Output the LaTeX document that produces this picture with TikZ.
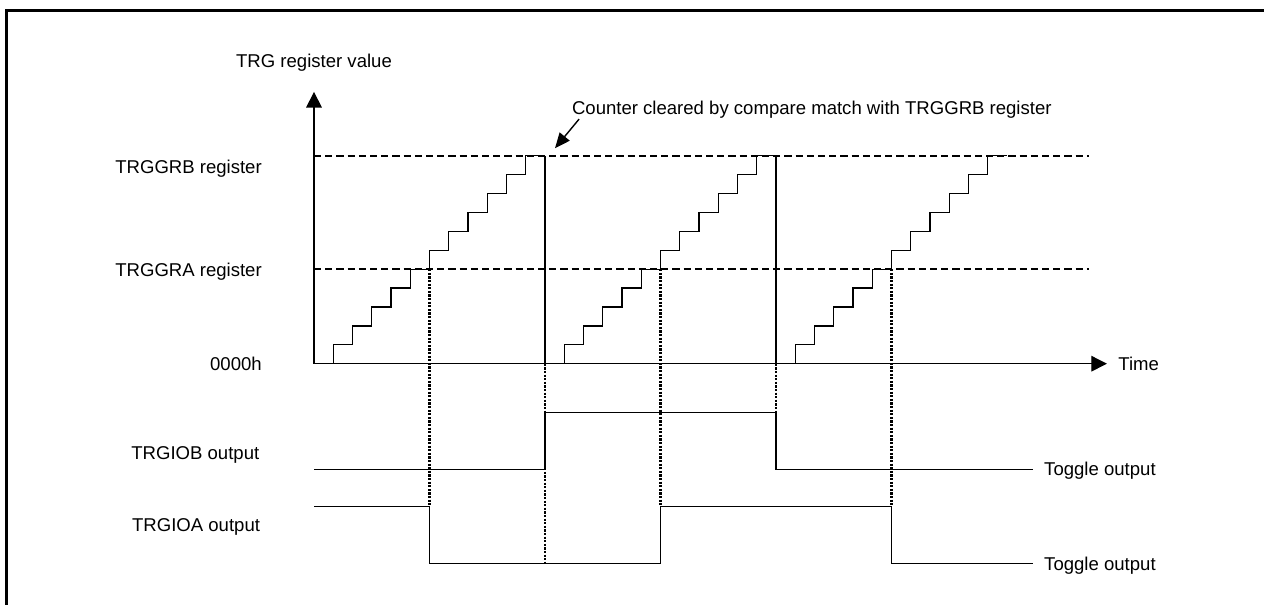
\documentclass[tikz,border=0pt]{standalone}
\usepackage{fontspec}
\setmainfont{Liberation Sans}
\usetikzlibrary{arrows.meta,positioning,calc}

\begin{document}
\begin{tikzpicture}[x=0.48125cm, y=0.4725cm,
    font=\fontsize{13.2pt}{15pt}\selectfont,
    axis/.style={line width=0.9pt, -{Triangle[length=3.9mm, width=3.9mm]}},
    limit/.style={line width=1.5pt, dash pattern=on 1.8mm off 1mm},
    guide/.style={line width=1.5pt, dash pattern=on 0.55mm off 0.35mm},
    signal/.style={line width=0.9pt},
    pointer/.style={line width=1pt, -{Triangle[length=3.8mm, width=3.2mm]}},
    lbl/.style={inner sep=0pt, anchor=base east}
  ]
  % Rahmen
  \useasboundingbox (-16.312,-12.767) rectangle (49.351,19.243);
  \draw[line width=2.1pt] (-15.974,-12.767) -- (-15.974,18.688) -- (49.351,18.688);

  % Achsen
  \coordinate (o) at (0,0);
  \coordinate (ytop) at (0,14.38);
  \coordinate (xend) at (41.19,0);
  \draw[axis] (o) -- (ytop);
  \draw[axis] (o) -- (xend);
  \node[right=2.8mm of xend, inner sep=0pt] (time) {Time};
  \node[anchor=base, inner sep=0pt] (ytitle) at (0,15.67) {TRG register value};

  % Vergleichswerte
  \coordinate (grb) at (0,11);
  \coordinate (gra) at (0,5);
  \draw[limit] (grb) -- (40.26,11);
  \draw[limit] (gra) -- (40.26,5);

  % Zaehler
  \foreach \s in {0,12,24}
    \draw[signal] (\s,0) \foreach \k in {1,...,11} { -- ++(1,0) -- ++(0,1) } -- ++(1,0);
  \draw[signal] (12,11) -- (12,0);
  \draw[signal] (24,11) -- (24,0);

  % Ausgaenge
  \draw[signal] (0,-5.59) -- (12,-5.59) -- (12,-2.59) -- (24,-2.59) -- (24,-5.59)
    -- (37.33,-5.59) coordinate (obend);
  \draw[signal] (0,-7.57) -- (6,-7.57) -- (6,-10.58) -- (18,-10.58) -- (18,-7.57)
    -- (30,-7.57) -- (30,-10.58) -- (37.33,-10.58) coordinate (oaend);

  % Hilfslinien
  \draw[guide] (6,5) -- (6,-7.57);
  \draw[guide] (12,0) -- (12,-10.58);
  \draw[guide] (18,5) -- (18,-7.57);
  \draw[guide] (24,0) -- (24,-2.59);
  \draw[guide] (30,5) -- (30,-7.57);

  % Beschriftung
  \node[lbl] (lgrb) at (-2.7,10.07) {TRGGRB register};
  \node[lbl] (lgra) at (-2.7,4.61) {TRGGRA register};
  \node[lbl] (lzero) at (-2.7,-0.37) {0000h};
  \node[lbl] (lob) at (-2.83,-5.06) {TRGIOB output};
  \node[lbl] (loa) at (-2.79,-8.90) {TRGIOA output};
  \node[inner sep=0pt, anchor=base west] (tgb) at ($(obend)+(0.59,-0.35)$) {Toggle output};
  \node[inner sep=0pt, anchor=base west] (tga) at ($(oaend)+(0.59,-0.35)$) {Toggle output};

  % Hinweis
  \node[inner sep=0pt, anchor=base west] (note) at (13.39,13.16)
    {Counter cleared by compare match with TRGGRB register};
  \coordinate (clr) at (12,11);
  \draw[pointer] ($(note.south west)+(0.38,0)$) -- ($(clr)+(0.52,0.4)$);
\end{tikzpicture}
\end{document}
